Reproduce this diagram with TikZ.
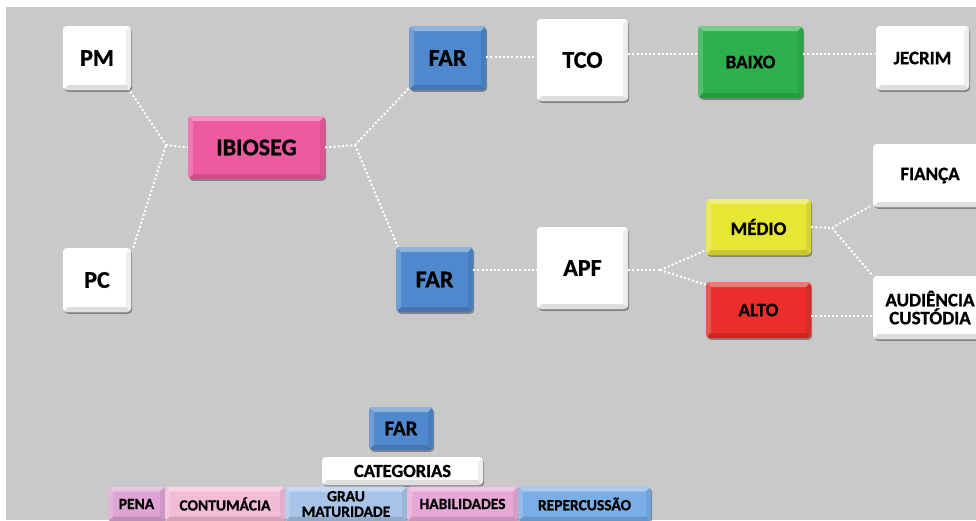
\documentclass[tikz,border=0pt]{standalone}
\usepackage{fontspec}
\setmainfont{Carlito}[BoldFeatures={FakeBold=0.9}]
\usetikzlibrary{shadows,calc}
\definecolor{bgc}{HTML}{C8C9C8}
\definecolor{pinkI}{HTML}{EC5A9F}
\definecolor{farblue}{HTML}{4F88CC}
\definecolor{baixog}{HTML}{2DB04B}
\definecolor{medioy}{HTML}{E6E635}
\definecolor{altor}{HTML}{EC2D2B}
\definecolor{penac}{HTML}{DDA4D4}
\definecolor{contc}{HTML}{F2BCD6}
\definecolor{grauc}{HTML}{A8C4E8}
\definecolor{habc}{HTML}{E6A9D6}
\definecolor{repc}{HTML}{79AEE6}
\newcommand\bevw{5pt}
\newcommand\bevelfaces[1]{%
 \path (path picture bounding box.north west) coordinate (bNW)
       (path picture bounding box.north east) coordinate (bNE)
       (path picture bounding box.south west) coordinate (bSW)
       (path picture bounding box.south east) coordinate (bSE);
 \path ([shift={(\bevw,-\bevw)}]bNW) coordinate (iNW)
       ([shift={(-\bevw,-\bevw)}]bNE) coordinate (iNE)
       ([shift={(\bevw,\bevw)}]bSW) coordinate (iSW)
       ([shift={(-\bevw,\bevw)}]bSE) coordinate (iSE);
 \fill[sharp corners,#1!65!white] (bNW)--(bNE)--(iNE)--(iNW)--cycle;
 \fill[sharp corners,#1!82!white] (bNW)--(iNW)--(iSW)--(bSW)--cycle;
 \fill[sharp corners,#1!93!black] (bNE)--(bSE)--(iSE)--(iNE)--cycle;
 \fill[sharp corners,#1!87!black] (bSW)--(iSW)--(iSE)--(bSE)--cycle;
}
\tikzset{
  bev/.style={rectangle, rounded corners=4pt, fill=#1, draw=none, inner sep=0pt,
    align=center, text=black,
    drop shadow={shadow xshift=1.2pt, shadow yshift=-1.8pt, opacity=.35, fill=black},
    path picture={\bevelfaces{#1}}},
  big/.style={font=\fontsize{24}{24}\selectfont\bfseries},
  mid/.style={font=\fontsize{19}{18}\selectfont\bfseries},
  cat/.style={font=\fontsize{18.5}{18}\selectfont\bfseries},
  sml/.style={font=\fontsize{15.5}{15.5}\selectfont\bfseries},
  conn/.style={draw=white, line width=2pt, dash pattern=on 2pt off 2.2pt},
}
\begin{document}
\begin{tikzpicture}[x=1pt,y=-1pt]
\useasboundingbox (0,0) rectangle (976,520);
\clip (0,0) rectangle (976,520);
\fill[white] (0,0) rectangle (976,520);
\fill[bgc] (6,7) rectangle (976,520);

% top tree
\node[bev=white, minimum width=68pt, minimum height=64pt, big] (PM) at (97,58) {PM};
\node[bev=white, minimum width=68pt, minimum height=64pt, big] (PC) at (97,280) {PC};
\node[bev=pinkI, minimum width=137pt, minimum height=63pt, big] (IB) at (256.5,147.5) {IBIOSEG};
\node[bev=farblue, minimum width=77pt, minimum height=64pt, big] (FAR1) at (447.5,58) {FAR};
\node[bev=farblue, minimum width=77pt, minimum height=65pt, big] (FAR2) at (434.5,279.5) {FAR};
\node[bev=white, minimum width=91pt, minimum height=82pt, big] (TCO) at (582.5,60) {TCO};
\node[bev=baixog, minimum width=105pt, minimum height=72pt, mid] (BAIXO) at (750.5,62) {BAIXO};
\node[bev=white, minimum width=93pt, minimum height=64pt, mid] (JEC) at (922.5,58) {JECRIM};
\node[bev=white, minimum width=91pt, minimum height=82pt, big] (APF) at (582.5,268) {APF};
\node[bev=medioy, minimum width=105pt, minimum height=56pt, mid] (MED) at (758.5,227) {MÉDIO};
\node[bev=altor, minimum width=105pt, minimum height=56pt, mid] (ALTO) at (758.5,310) {ALTO};
\node[bev=white, minimum width=114pt, minimum height=63pt, mid] (FIA) at (930,175.5) {FIANÇA};
\node[bev=white, minimum width=114pt, minimum height=63pt, mid] (AUD) at (930,307.5) {AUDIÊNCIA\\CUSTÓDIA};

% junctions
\coordinate (jL) at (166,145);
\coordinate (jR) at (355,145);
\coordinate (jA) at (660,270);
\coordinate (jM) at (832,228);

\draw[conn] ([shift={(-3pt,2pt)}]PM.south east) -- (jL);
\draw[conn] ([shift={(2pt,0pt)}]PC.north east) -- (jL);
\draw[conn] (jL) -- (IB.west);
\draw[conn] (IB.east) -- (jR);
\draw[conn] (jR) -- ([shift={(0pt,2pt)}]FAR1.south west);
\draw[conn] (jR) -- ([shift={(2pt,0pt)}]FAR2.north west);
\draw[conn] ([yshift=1pt]FAR1.east) -- ([yshift=1pt]FAR1.east -| TCO.west);
\draw[conn] ([yshift=6pt]TCO.east) -- ([yshift=6pt]TCO.east -| BAIXO.west);
\draw[conn] ([yshift=4pt]JEC.west -| BAIXO.east) -- ([yshift=4pt]JEC.west);
\draw[conn] ([yshift=-2pt]APF.west -| FAR2.east) -- ([yshift=-2pt]APF.west);
\draw[conn] ([yshift=-2pt]APF.east) -- (jA);
\draw[conn] (jA) -- ([yshift=5pt]MED.south west);
\draw[conn] (jA) -- ([yshift=-3pt]ALTO.north west);
\draw[conn] (MED.east) -- (jM);
\draw[conn] (jM) -- ([shift={(-3pt,1pt)}]FIA.south west);
\draw[conn] (jM) -- (AUD.north west);
\draw[conn] ([yshift=-6pt]ALTO.east) -- ([yshift=-6pt]ALTO.east -| AUD.west);

% bottom group
\node[bev=farblue, minimum width=64pt, minimum height=43pt, font=\fontsize{21}{21}\selectfont\bfseries] (FAR3) at (401,428.5) {FAR};
\node[bev=white, minimum width=161pt, minimum height=28pt, cat] (CAT) at (402.5,471) {CATEGORIAS};
\node[bev=penac, minimum width=57pt, minimum height=35pt, sml] (PENA) at (136.5,504) {PENA};
\node[bev=contc, minimum width=120pt, minimum height=35pt, sml] (CONT) at (225,504) {CONTUMÁCIA};
\node[bev=grauc, minimum width=122pt, minimum height=35pt, sml] (GRAU) at (346,504) {GRAU\\MATURIDADE};
\node[bev=habc, minimum width=111pt, minimum height=35pt, sml] (HAB) at (462.5,504) {HABILIDADES};
\node[bev=repc, minimum width=133pt, minimum height=35pt, sml] (REP) at (584.5,504) {REPERCUSSÃO};
\end{tikzpicture}
\end{document}
